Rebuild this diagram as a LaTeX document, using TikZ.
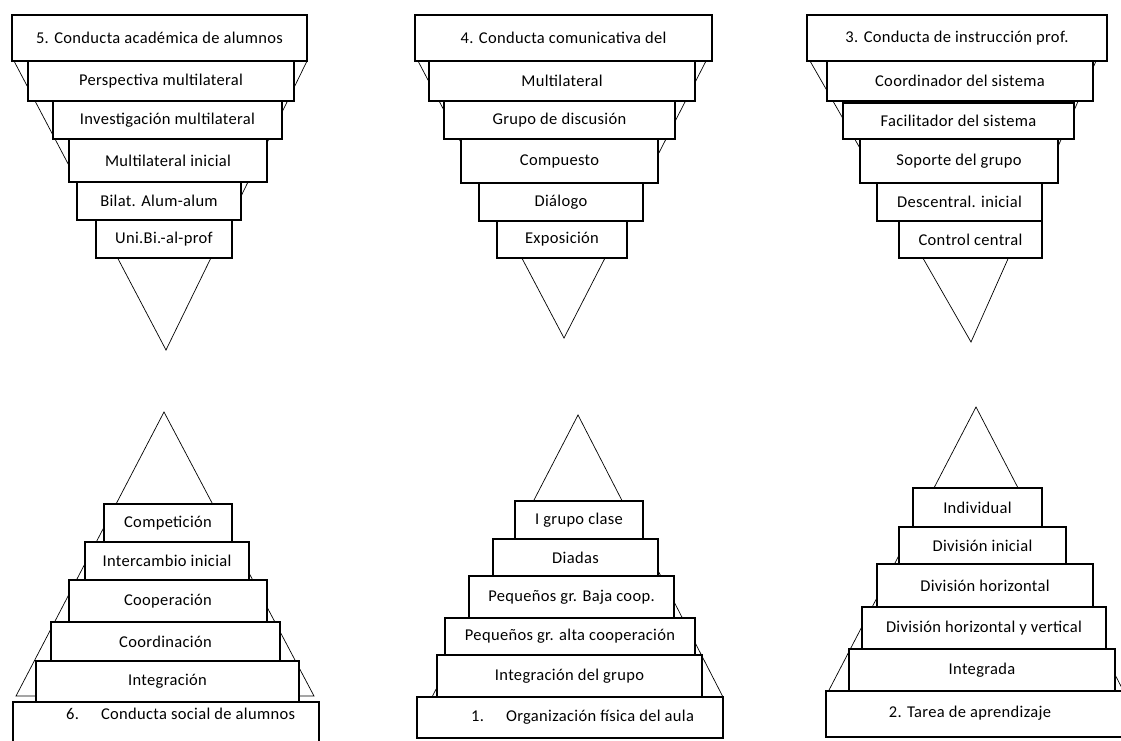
\documentclass[tikz,border=0pt]{standalone}
\usepackage{fontspec}
\setmainfont{Carlito}[LetterSpace=2]
% one tier of a pyramid: name, left, top, right, bottom, text
\newcommand\tierbox[6]{%
  \node[tier, minimum width={(#4-#2)*1pt}, minimum height={(#5-#3)*1pt}]
    (#1) at ({(#2+#4)/2},{(#3+#5)/2}) {#6};}
\begin{document}
\begin{tikzpicture}[x=1pt,y=-1pt,
  tier/.style={draw=black, fill=white, line width=1.1pt, inner sep=0pt, outer sep=0pt,
               font=\fontsize{16.5}{19}\selectfont},
  tri/.style={draw=black, line width=0.7pt, line join=miter},
  heavy/.style={draw=black, line width=2.2pt},
  lbl/.style={inner sep=0pt, font=\fontsize{16.5}{19}\selectfont}]
\useasboundingbox (0,0) rectangle (1121,740);
\clip (0,0) rectangle (1121,740);

% ---------- 5. academic conduct (inverted pyramid) ----------
\coordinate (t5l) at (14,61); \coordinate (t5r) at (307,61); \coordinate (t5a) at (166,350);
\draw[tri] (t5l) -- (t5a) -- (t5r);
\tierbox{p5a}{12}{15}{307}{61}{5. Conducta académica de alumnos}
\tierbox{p5b}{28}{61}{294}{101}{Perspectiva multilateral}
\tierbox{p5c}{53}{101}{282}{139}{Investigación multilateral}
\tierbox{p5d}{69}{139}{267}{182}{Multilateral inicial}
\tierbox{p5e}{77}{182}{241}{220}{Bilat. Alum-alum}
\tierbox{p5f}{96}{220}{232}{258}{Uni.Bi.-al-prof}

% ---------- 4. communicative conduct ----------
\coordinate (t4l) at (418,61); \coordinate (t4r) at (706,61); \coordinate (t4a) at (564,338);
\draw[tri] (t4l) -- (t4a) -- (t4r);
\tierbox{p4a}{415}{15}{712}{61}{4. Conducta comunicativa del}
\tierbox{p4b}{429}{61}{695}{101}{Multilateral}
\tierbox{p4c}{444}{101}{675}{139}{Grupo de discusión}
\tierbox{p4d}{461}{139}{658}{183}{Compuesto}
\tierbox{p4e}{479}{183}{643}{221}{Diálogo}
\tierbox{p4f}{497}{221}{627}{258}{Exposición}

% ---------- 3. teacher instruction ----------
\coordinate (t3l) at (810,61); \coordinate (t3r) at (1096,61); \coordinate (t3a) at (971,342);
\draw[tri] (t3l) -- (t3a) -- (t3r);
\tierbox{p3a}{807}{15}{1107}{61}{3. Conducta de instrucción prof.}
\tierbox{p3b}{827}{61}{1093}{101}{Coordinador del sistema}
\tierbox{p3c}{843}{103}{1074}{139}{Facilitador del sistema}
\tierbox{p3d}{860}{139}{1058}{183}{Soporte del grupo}
\tierbox{p3e}{877}{183}{1042}{221}{Descentral. inicial}
\tierbox{p3f}{899}{221}{1042}{258}{Control central}

% ---------- 6. social conduct (upright pyramid) ----------
\coordinate (t6l) at (16,696); \coordinate (t6r) at (314,696); \coordinate (t6a) at (164,412);
\draw[tri] (t6l) -- (t6a) -- (t6r) -- cycle;
\tierbox{p6f}{104}{504}{232}{542}{Competición}
\tierbox{p6e}{85}{542}{249}{580}{Intercambio inicial}
\tierbox{p6d}{69}{580}{267}{622}{Cooperación}
\tierbox{p6c}{51}{622}{280}{661}{Coordinación}
\tierbox{p6b}{36}{661}{299}{702}{Integración}
\tierbox{p6a}{13}{702}{319}{760}{}
\draw[heavy] (p6f.south west) -- (p6f.south east);
\node[lbl, anchor=west] (p6t) at (66,714) {6.\hspace{22pt}Conducta social de alumnos};

% ---------- 1. physical organisation ----------
\coordinate (t1l) at (432,697); \coordinate (t1r) at (723,697); \coordinate (t1a) at (578,415);
\draw[tri] (t1l) -- (t1a) -- (t1r) -- cycle;
\tierbox{p1f}{515}{501}{643}{539}{I grupo clase}
\tierbox{p1e}{493}{539}{658}{576}{Diadas}
\tierbox{p1d}{469}{576}{674}{618}{Pequeños gr. Baja coop.}
\tierbox{p1c}{445}{618}{695}{655}{Pequeños gr. alta cooperación}
\tierbox{p1b}{437}{655}{702}{697}{Integración del grupo}
\tierbox{p1a}{417}{697}{723}{738}{}
\node[lbl, anchor=west] (p1t) at (471,717) {1.\hspace{22pt}Organización física del aula};

% ---------- 2. learning task ----------
\coordinate (t2l) at (828,692); \coordinate (t2r) at (1124,692); \coordinate (t2a) at (976,407);
\draw[tri] (t2l) -- (t2a) -- (t2r) -- cycle;
\tierbox{p2f}{913}{488}{1042}{527}{Individual}
\tierbox{p2e}{899}{527}{1066}{564}{División inicial}
\tierbox{p2d}{877}{564}{1093}{607}{División horizontal}
\tierbox{p2c}{862}{607}{1106}{649}{División horizontal y vertical}
\tierbox{p2b}{849}{649}{1115}{691}{Integrada}
\tierbox{p2a}{826}{691}{1135}{737}{}
\draw[heavy] (p2b.south west) -- (p2b.south east);
\node[lbl] (p2t) at (970,713) {2. Tarea de aprendizaje};
\end{tikzpicture}
\end{document}
